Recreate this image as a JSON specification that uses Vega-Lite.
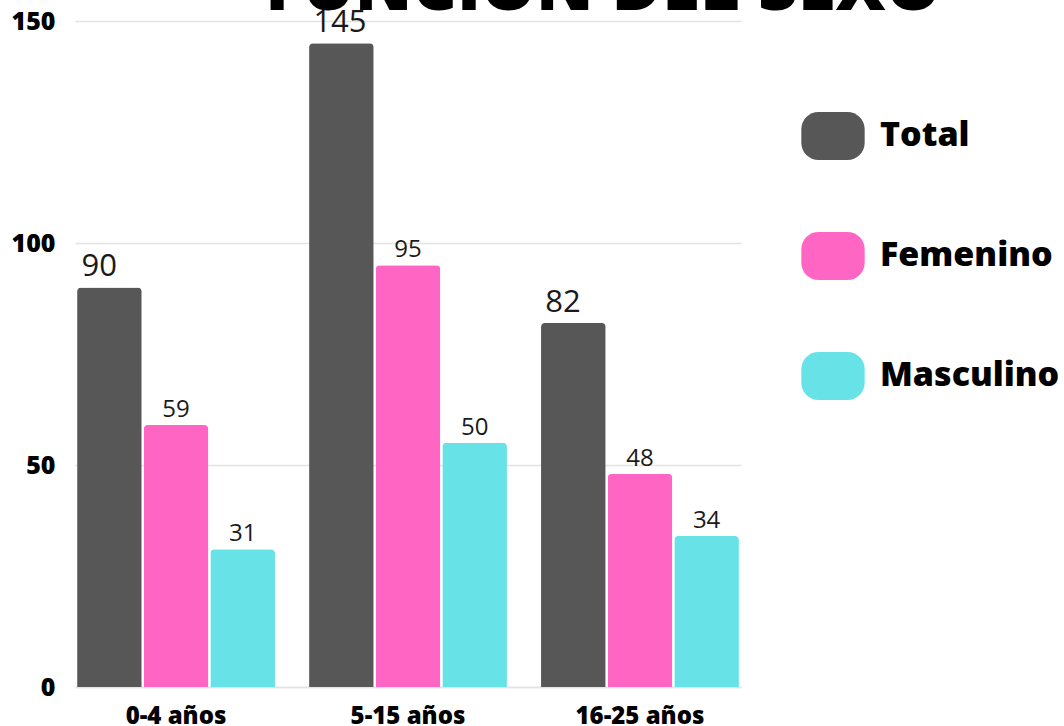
{
  "$schema": "https://vega.github.io/schema/vega-lite/v6.json",
  "width": 666,
  "height": 666,
  "autosize": {"type": "none"},
  "padding": {"left": 75, "top": 21, "right": 323, "bottom": 39},
  "background": "white",
  "title": {
    "text": "FUNCIÓN DEL SEXO",
    "font": "Open Sans",
    "fontSize": 69,
    "fontWeight": 800,
    "color": "#000000",
    "anchor": "middle",
    "frame": "group",
    "baseline": "alphabetic",
    "offset": -72,
    "dx": 195
  },
  "config": {
    "view": {"stroke": null},
    "font": "Open Sans"
  },
  "data": {
    "values": [
      {"grupo": "0-4 años", "sexo": "Total", "valor": 90, "etiqueta": "90"},
      {"grupo": "0-4 años", "sexo": "Femenino", "valor": 59, "etiqueta": "59"},
      {"grupo": "0-4 años", "sexo": "Masculino", "valor": 31, "etiqueta": "31"},
      {"grupo": "5-15 años", "sexo": "Total", "valor": 145, "etiqueta": "145"},
      {"grupo": "5-15 años", "sexo": "Femenino", "valor": 95, "etiqueta": "95"},
      {"grupo": "5-15 años", "sexo": "Masculino", "valor": 55, "etiqueta": "50"},
      {"grupo": "16-25 años", "sexo": "Total", "valor": 82, "etiqueta": "82"},
      {"grupo": "16-25 años", "sexo": "Femenino", "valor": 48, "etiqueta": "48"},
      {"grupo": "16-25 años", "sexo": "Masculino", "valor": 34, "etiqueta": "34"}
    ]
  },
  "encoding": {
    "x": {
      "field": "grupo",
      "type": "nominal",
      "sort": ["0-4 años", "5-15 años", "16-25 años"],
      "scale": {"paddingInner": 0.147, "paddingOuter": 0.009},
      "axis": {
        "title": null,
        "labelAngle": 0,
        "labelFont": "Open Sans",
        "labelFontSize": 24,
        "labelFontWeight": 800,
        "labelColor": "#000000",
        "labelPadding": 36,
        "labelBaseline": "alphabetic",
        "ticks": false,
        "domain": true,
        "domainColor": "#e3e3e3",
        "domainWidth": 1.5
      }
    },
    "xOffset": {
      "field": "sexo",
      "type": "nominal",
      "sort": ["Total", "Femenino", "Masculino"],
      "scale": {"paddingInner": 0.03, "paddingOuter": 0}
    },
    "y": {
      "field": "valor",
      "type": "quantitative",
      "scale": {"domain": [0, 150], "nice": false},
      "axis": {
        "title": null,
        "values": [0, 50, 100, 150],
        "labelFont": "Open Sans",
        "labelFontSize": 25,
        "labelFontWeight": 800,
        "labelColor": "#000000",
        "labelPadding": 20,
        "ticks": false,
        "domain": false,
        "grid": true,
        "gridColor": "#e3e3e3",
        "gridWidth": 1.5
      }
    }
  },
  "layer": [
    {
      "mark": {"type": "bar", "cornerRadiusTopLeft": 4, "cornerRadiusTopRight": 4},
      "encoding": {
        "color": {
          "field": "sexo",
          "type": "nominal",
          "scale": {
            "domain": ["Total", "Femenino", "Masculino"],
            "range": ["#575757", "#ff66c4", "#67e2e6"]
          },
          "legend": {
            "title": null,
            "orient": "none",
            "legendX": 734,
            "legendY": 91,
            "padding": 0,
            "symbolType": "M -0.6,-1 L 0.6,-1 A 0.72,0.72 0 0 1 1.32,-0.28 L 1.32,0.28 A 0.72,0.72 0 0 1 0.6,1 L -0.6,1 A 0.72,0.72 0 0 1 -1.32,0.28 L -1.32,-0.28 A 0.72,0.72 0 0 1 -0.6,-1 Z",
            "symbolSize": 2304,
            "symbolStrokeWidth": 0,
            "symbolOpacity": 1,
            "rowPadding": 72,
            "labelOffset": 23,
            "labelFont": "Open Sans",
            "labelFontSize": 34,
            "labelFontWeight": 800,
            "labelColor": "#000000",
            "labelBaseline": "middle",
            "labelLimit": 400
          }
        }
      }
    },
    {
      "transform": [{"filter": "datum.sexo === 'Total'"}],
      "mark": {
        "type": "text",
        "align": "left",
        "baseline": "alphabetic",
        "dx": -28,
        "dy": -11,
        "font": "Open Sans",
        "fontSize": 31,
        "fontWeight": "normal",
        "color": "#1a1a1a"
      },
      "encoding": {"text": {"field": "etiqueta"}}
    },
    {
      "transform": [{"filter": "datum.sexo !== 'Total'"}],
      "mark": {
        "type": "text",
        "align": "center",
        "baseline": "alphabetic",
        "dy": -8,
        "font": "Open Sans",
        "fontSize": 24,
        "fontWeight": "normal",
        "color": "#1a1a1a"
      },
      "encoding": {"text": {"field": "etiqueta"}}
    }
  ]
}
